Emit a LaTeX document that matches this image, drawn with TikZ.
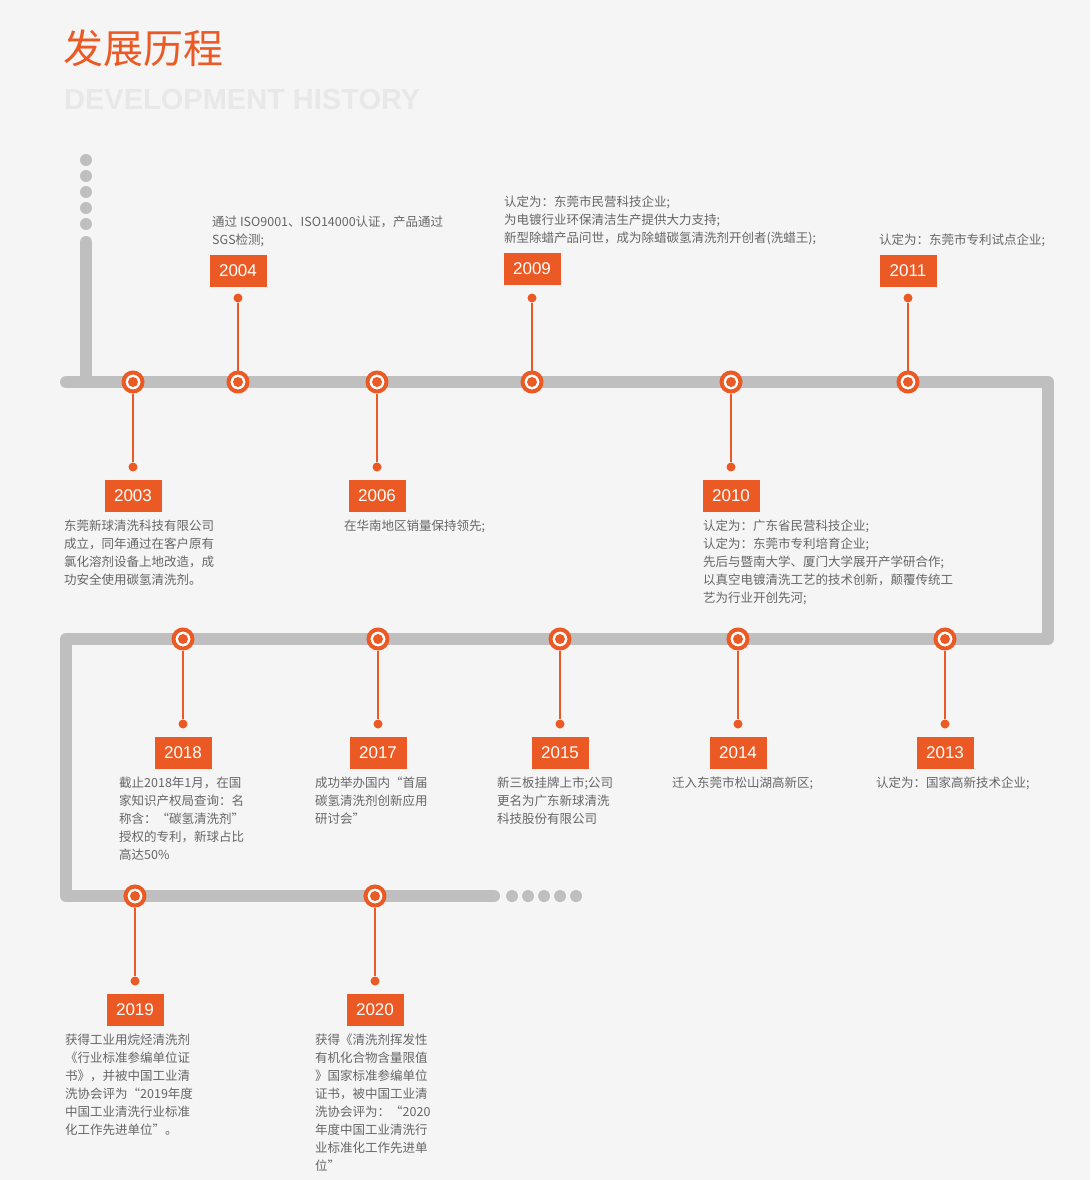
\documentclass[tikz,border=0pt]{standalone}
\usepackage{fontspec}
\setmainfont{Noto Sans CJK SC}
\newfontfamily\latinsans{Liberation Sans}
\definecolor{bg}{HTML}{F5F5F5}
\definecolor{org}{HTML}{EB5A24}
\definecolor{trk}{HTML}{BFBFBF}
\definecolor{txt}{HTML}{666666}
\begin{document}
\begin{tikzpicture}[x=1pt,y=-1pt,
  track/.style={draw=trk,line width=12pt,line cap=round,line join=round},
  gdot/.style={circle,fill=trk,minimum size=12pt,inner sep=0pt},
  evmark/.style={circle,fill=white,draw=org,line width=4pt,minimum size=19pt,inner sep=0pt,
     path picture={\fill[org] (path picture bounding box.center) circle (5pt);}},
  sdot/.style={circle,fill=org,minimum size=9pt,inner sep=0pt},
  yrbox/.style={fill=org,text=white,minimum width=57pt,minimum height=32pt,inner sep=0pt,font=\latinsans\fontsize{17}{17}\selectfont},
  desc/.style={text=txt,align=left,inner sep=0pt,font=\fontsize{12.5}{18}\selectfont},
  stem/.style={draw=org,line width=1.2pt}]
\fill[bg] (0,0) rectangle (1090,1180);
\useasboundingbox (0,0) rectangle (1090,1180);
\node[anchor=west,text=org,inner sep=0pt,font=\fontsize{40}{40}\selectfont] (title) at (63,48) {发展历程};
\node[anchor=west,text=black!9,inner sep=0pt,font=\latinsans\bfseries\fontsize{29}{29}\selectfont] (sub) at (64,100) {DEVELOPMENT HISTORY};
% track
\draw[track] (86,242) -- (86,382);
\draw[track] (66,382) -- (1048,382) -- (1048,639) -- (66,639) -- (66,896) -- (494,896);
\foreach \i/\y in {1/160,2/176,3/192,4/208,5/224} \node[gdot] (v\i) at (86,\y) {};
\foreach \i/\x in {1/512,2/528,3/544,4/560,5/576} \node[gdot] (h\i) at (\x,896) {};
% down events
\foreach \n/\x/\ry/\yy/\tx/\tt in {
 a/133/382/2003/64/{东莞新球清洗科技有限公司\\成立，同年通过在客户原有\\氯化溶剂设备上地改造，成\\功安全使用碳氢清洗剂。},
 c/377/382/2006/344/{在华南地区销量保持领先;},
 e/731/382/2010/703/{认定为：广东省民营科技企业;\\认定为：东莞市专利培育企业;\\先后与暨南大学、厦门大学展开产学研合作;\\以真空电镀清洗工艺的技术创新，颠覆传统工\\艺为行业开创先河;},
 g/183/639/2018/119/{截止2018年1月，在国\\家知识产权局查询：名\\称含：“碳氢清洗剂”\\授权的专利，新球占比\\高达50\%},
 h/378/639/2017/315/{成功举办国内“首届\\碳氢清洗剂创新应用\\研讨会”},
 i/560/639/2015/497/{新三板挂牌上市;公司\\更名为广东新球清洗\\科技股份有限公司},
 j/738/639/2014/672/{迁入东莞市松山湖高新区;},
 k/945/639/2013/876/{认定为：国家高新技术企业;},
 l/135/896/2019/65/{获得工业用烷烃清洗剂\\《行业标准参编单位证\\书》，并被中国工业清\\洗协会评为“2019年度\\中国工业清洗行业标准\\化工作先进单位”。},
 m/375/896/2020/315/{获得《清洗剂挥发性\\有机化合物含量限值\\》国家标准参编单位\\证书，被中国工业清\\洗协会评为：“2020\\年度中国工业清洗行\\业标准化工作先进单\\位”}}
{
 \node[evmark] (m\n) at (\x,\ry) {};
 \node[sdot] (s\n) at (\x,\ry+85) {};
 \draw[stem] (m\n) -- (s\n);
 \node[yrbox] (y\n) at (\x,\ry+114) {\yy};
 \node[desc,anchor=north west] (t\n) at (\tx,\ry+138) {\tt};
}
% up events
\foreach \n/\x/\yy/\by/\tx/\tt in {
 b/238/2004/271/212/{通过 ISO9001、ISO14000认证，产品通过\\SGS检测;},
 d/532/2009/269/504/{认定为：东莞市民营科技企业;\\为电镀行业环保清洁生产提供大力支持;\\新型除蜡产品问世，成为除蜡碳氢清洗剂开创者(洗蜡王);},
 f/908/2011/271/879/{认定为：东莞市专利试点企业;}}
{
 \node[evmark] (m\n) at (\x,382) {};
 \node[sdot] (s\n) at (\x,298) {};
 \draw[stem] (m\n) -- (s\n);
 \node[yrbox] (y\n) at (\x,\by) {\yy};
 \node[desc,anchor=south west] (t\n) at (\tx,\by-24) {\tt};
}
\end{tikzpicture}
\end{document}
